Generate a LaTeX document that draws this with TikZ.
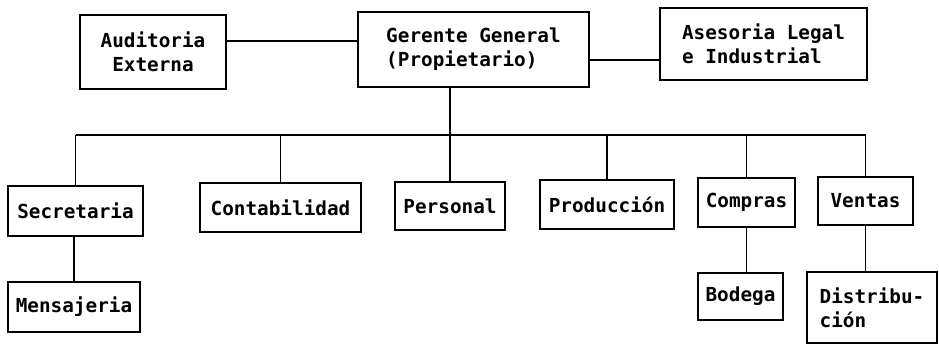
\documentclass[tikz,border=0pt]{standalone}
\usepackage{fontspec}
\newfontfamily\orgfont{DejaVu Sans Mono}
\usetikzlibrary{positioning, calc}

\begin{document}
\begin{tikzpicture}[
    x=0.02cm, y=-0.02cm,
    unit/.style ={draw, line width=1.1pt, inner sep=3pt,
                  font=\orgfont\bfseries\fontsize{11}{13.5}\selectfont},
    link/.style ={line width=1.1pt},
]
\useasboundingbox (0,0) rectangle (939,344);
\node[unit, align=center, minimum width=2.92cm, minimum height=1.48cm] (aud) at (153,52)    {Auditoria\\Externa};
\node[unit, align=left,   minimum width=4.62cm, minimum height=1.50cm] (ger) at (473.5,49.5) {Gerente General\\(Propietario)};
\node[unit, align=left,   minimum width=4.14cm, minimum height=1.44cm] (ase) at (763.5,44)  {Asesoria Legal\\e Industrial};
\node[unit, minimum width=2.70cm, minimum height=1.00cm] (sec) at (75.5,211)  {Secretaria};
\node[unit, minimum width=2.64cm, minimum height=1.00cm] (men) at (74,307)    {Mensajeria};
\node[unit, minimum width=3.22cm, minimum height=0.98cm] (con) at (280.5,207.5) {Contabilidad};
\node[unit, minimum width=2.20cm, minimum height=0.96cm] (per) at (450,206)   {Personal};
\node[unit, minimum width=2.68cm, minimum height=0.98cm] (pro) at (607,204.5) {Producción};
\node[unit, minimum width=1.94cm, minimum height=0.98cm] (com) at (746.5,202.5) {Compras};
\node[unit, minimum width=1.90cm, minimum height=0.96cm] (ven) at (865.5,201) {Ventas};
\node[unit, minimum width=1.70cm, minimum height=0.94cm] (bod) at (740.5,296.5) {Bodega};
\node[unit, align=left, minimum width=2.60cm, minimum height=1.42cm] (dis) at (872,307.5) {Distribu-\\ción};
\coordinate (bus) at (0,135);
% staff links
\draw[link] ([yshift=0.22cm]aud.east) -- ([yshift=0.22cm]aud.east -| ger.west);
\draw[link] ([yshift=-0.21cm]ger.east) -- ([yshift=-0.21cm]ger.east -| ase.west);
% line of command
\draw[link] (ger.south -| per.north) -- (per.north);
\draw[link] (sec.north |- bus) -- (ven.north |- bus);
\draw[link] (sec.north) -- (sec.north |- bus);
\draw[link] (con.north) -- (con.north |- bus);
\draw[link] (pro.north) -- (pro.north |- bus);
\draw[link] (com.north) -- (com.north |- bus);
\draw[link] (ven.north) -- (ven.north |- bus);
\draw[link] (men.north) -- (men.north |- sec.south);
\draw[link] (com.south) -- (com.south |- bod.north);
\draw[link] (ven.south) -- (ven.south |- dis.north);
\end{tikzpicture}
\end{document}
